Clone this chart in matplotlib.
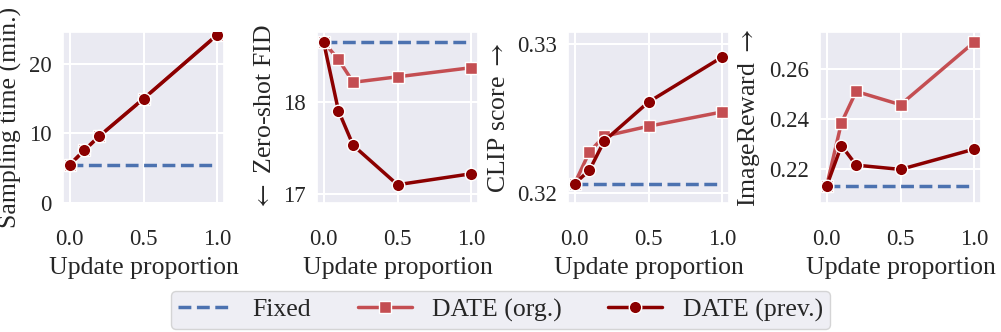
import matplotlib
matplotlib.use('Agg')
import matplotlib.pyplot as plt
import seaborn as sns

# ============================================================================
# DATA
# ============================================================================
proportion = [0.0, 0.1, 0.2, 0.5, 1.0]

time_fixed = 5.5
time_org = [5.5, 7.6, 9.6, 15.0, 24.2]
time_prev = [5.5, 7.6, 9.6, 15.0, 24.2]

fid_fixed = 18.66
fid_org = [18.66, 18.47, 18.22, 18.28, 18.38]
fid_prev = [18.66, 17.91, 17.53, 17.10, 17.22]

clip_fixed = 0.32063
clip_org = [0.32063, 0.32275, 0.3238, 0.32447, 0.32543]
clip_prev = [0.32063, 0.32152, 0.32348, 0.32609, 0.32911]

ir_fixed = 0.2133
ir_org = [0.2133, 0.2385, 0.2510, 0.2457, 0.2707]
ir_prev = [0.2133, 0.2294, 0.2216, 0.2199, 0.2280]

ylabels = ['Sampling time (min.)', r'$\leftarrow$ Zero-shot FID',
           r'CLIP score $\rightarrow$', r'ImageReward $\rightarrow$']
yticks = [[0, 10, 20], [17, 18], [0.32, 0.33], [0.22, 0.24, 0.26]]
yticklabels = [['0', '10', '20'], ['17', '18'], ['0.32', '0.33'], ['0.22', '0.24', '0.26']]
ylims = [(0, 24.6), (16.90, 18.77), (0.31933, 0.33078), (0.2065, 0.2747)]

# ============================================================================
# STYLE
# ============================================================================
sns.set_theme(style='darkgrid')
plt.rcParams['font.family'] = ['Liberation Serif', 'DejaVu Serif']
plt.rcParams['mathtext.fontset'] = 'stix'

c_fixed = '#4C72B0'
c_org = '#C44E52'
c_prev = '#8B0000'
fs_lab = 18.5
fs_tick = 16.5
fs_leg = 18.5

fig = plt.figure(figsize=(10.01, 3.32), dpi=100)
W, H = 1001, 332
lefts = [63, 317, 568, 820]
ax_w = 161
ax_top, ax_bot = 32, 203

panels = [
    (time_fixed, time_org, time_prev),
    (fid_fixed, fid_org, fid_prev),
    (clip_fixed, clip_org, clip_prev),
    (ir_fixed, ir_org, ir_prev),
]

handles = None
for i, (fixed, org, prev) in enumerate(panels):
    ax = fig.add_axes([lefts[i] / W, (H - ax_bot) / H, ax_w / W, (ax_bot - ax_top) / H])
    h1, = ax.plot(proportion, [fixed] * len(proportion), '--', color=c_fixed, lw=2.5,
                  label='Fixed', zorder=2)
    h2, = ax.plot(proportion, org, 's-', color=c_org, lw=2.5, ms=9, mec='white', mew=1,
                  label='DATE (org.)', zorder=3)
    h3, = ax.plot(proportion, prev, 'o-', color=c_prev, lw=2.5, ms=9, mec='white', mew=1,
                  label='DATE (prev.)', zorder=4)
    handles = [h1, h2, h3]
    ax.set_xlim(-0.045, 1.045)
    ax.set_ylim(*ylims[i])
    ax.set_xticks([0.0, 0.5, 1.0])
    ax.set_xticklabels(['0.0', '0.5', '1.0'], fontsize=fs_tick)
    ax.set_yticks(yticks[i])
    ax.set_yticklabels(yticklabels[i], fontsize=fs_tick)
    ax.set_xlabel('Update proportion', fontsize=fs_lab, labelpad=5)
    ax.set_ylabel(ylabels[i], fontsize=fs_lab, labelpad=5)
    ax.tick_params(axis='x', pad=13)
    ax.tick_params(axis='y', pad=2)
    ax.grid(True, color='white', lw=1.5)

leg = fig.legend(handles=handles, loc='lower center', ncol=3, fontsize=fs_leg,
                 bbox_to_anchor=(0.5, 0.0), frameon=True, borderaxespad=0.1,
                 columnspacing=1.8, handlelength=2.1, handletextpad=0.8,
                 borderpad=0.3, fancybox=True)

plt.savefig('out.png', dpi=100, facecolor='white')
